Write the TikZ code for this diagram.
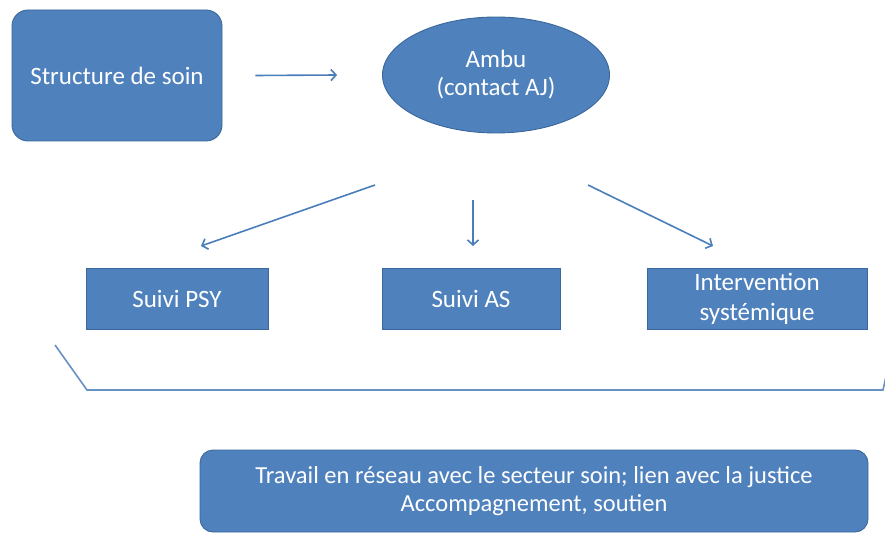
\documentclass[tikz,border=0pt]{standalone}
\usepackage{fontspec}
\setmainfont{Carlito}
\usetikzlibrary{arrows.meta,shapes.geometric,calc}
\definecolor{boxfill}{HTML}{4F81BD}
\definecolor{boxline}{HTML}{3A679C}
\definecolor{arrowcol}{HTML}{4A7EBB}
\tikzset{
  every node/.style={font=\fontsize{25}{30}\selectfont, text=white, align=center},
  blockbox/.style={draw=boxline, fill=boxfill, line width=0.9pt, inner sep=0pt},
  roundbox/.style={blockbox, rounded corners=16pt},
  flowarrow/.style={draw=arrowcol, line width=1.6pt, -{Straight Barb[length=5pt,width=11pt,line width=1.6pt]}},
  bracketline/.style={draw=arrowcol!85, line width=1.6pt}
}
\begin{document}
\begin{tikzpicture}[x=1pt,y=-1pt]
\useasboundingbox (0,0) rectangle (885,534);

% top row
\node[roundbox, minimum width=210pt, minimum height=131pt] (soin) at (117,75.5) {Structure de soin};
\node[blockbox, ellipse, minimum width=227pt, minimum height=116pt] (ambu) at (496,75) {\raisebox{-2pt}{Ambu}\\(contact AJ)};

% second row
\node[blockbox, minimum width=182pt, minimum height=61pt] (psy) at (177,298.5) {Suivi PSY};
\node[blockbox, minimum width=178pt, minimum height=61pt] (as) at (471,298.5) {Suivi AS};
\node[blockbox, minimum width=220pt, minimum height=61pt, text depth=3pt] (sys) at (757,298.5) {Intervention\\syst\'emique};

% bottom block
\node[roundbox, rounded corners=13pt, minimum width=668pt, minimum height=82pt, font=\fontsize{24.5}{28}\selectfont] (reseau) at (534,491) {Travail en r\'eseau avec le secteur soin; lien avec la justice\\Accompagnement, soutien};

% arrow ends
\coordinate (a0) at ($(soin.east)+(33,0)$);
\coordinate (a1) at ($(ambu.west)+(-45,0)$);
\coordinate (l0) at (375,185);
\coordinate (l1) at (201,246);
\coordinate (m0) at (473,200);
\coordinate (m1) at (473,246);
\coordinate (r0) at (588,185);
\coordinate (r1) at (713,246);

\draw[flowarrow] (a0) -- (a1);
\draw[flowarrow] (l0) -- (l1);
\draw[flowarrow] (m0) -- (m1);
\draw[flowarrow] (r0) -- (r1);

% bracket under the second row
\coordinate (b0) at (55,345);
\coordinate (b1) at (87,390);
\coordinate (b2) at (883,390);
\coordinate (b3) at (887,372);
\draw[bracketline] (b0) -- (b1) -- (b2) -- (b3);
\end{tikzpicture}
\end{document}
